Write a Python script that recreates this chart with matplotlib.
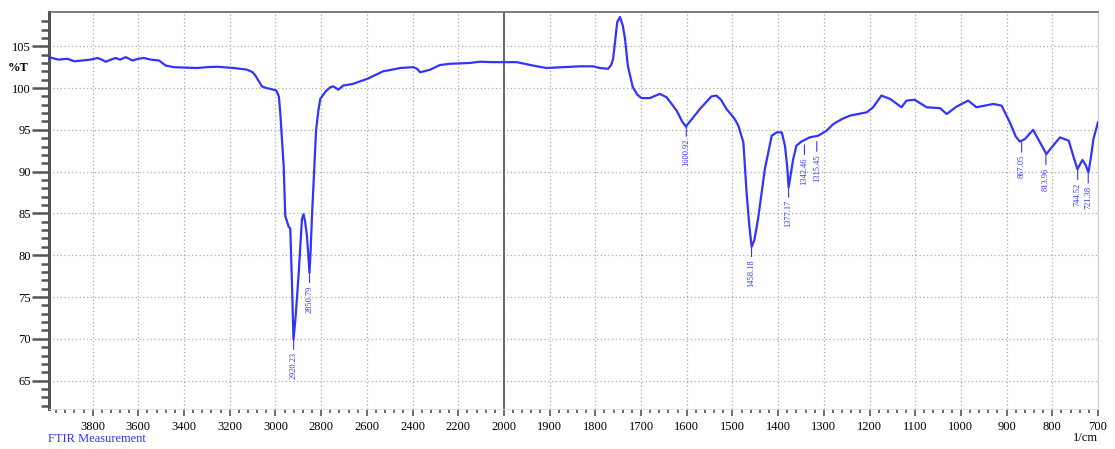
import numpy as np
import matplotlib
matplotlib.use("Agg")
import matplotlib.pyplot as plt
from matplotlib.ticker import FixedLocator, NullFormatter

plt.rcParams['font.family'] = ['Liberation Serif', 'DejaVu Serif']

# ---- data ----
wavenumber = [3991, 3978, 3950, 3910, 3880, 3845, 3810, 3779, 3760, 3743, 3720, 3699, 3680,
              3656, 3640, 3626, 3600, 3576, 3545, 3510, 3495, 3481, 3445, 3400, 3342, 3300,
              3255, 3183, 3124, 3100, 3088, 3070, 3059, 3040, 3022, 2996, 2985, 2979, 2964,
              2957, 2942, 2935, 2928, 2921, 2912, 2899, 2884, 2877, 2870, 2862, 2855, 2851,
              2846, 2840, 2833, 2826, 2822, 2812, 2804, 2780, 2760, 2747, 2735, 2725, 2703,
              2680, 2660, 2630, 2598, 2560, 2529, 2490, 2454, 2396, 2380, 2367, 2350, 2323,
              2280, 2240, 2192, 2150, 2105, 2050, 2004,
              1972, 1937, 1907, 1871, 1834, 1805, 1790, 1772, 1765, 1761, 1755, 1752, 1746,
              1740, 1735, 1729, 1718, 1708, 1699, 1681, 1659, 1644, 1622, 1610, 1602, 1590,
              1571, 1546, 1535, 1525, 1513, 1495, 1487, 1476, 1469, 1463, 1458, 1452, 1444,
              1429, 1414, 1403, 1392, 1385, 1380, 1377, 1372, 1367, 1360, 1349, 1331, 1312,
              1294, 1279, 1260, 1243, 1206, 1192, 1174, 1155, 1130, 1119, 1101, 1075, 1046,
              1031, 1009, 984, 966, 929, 911, 893, 880, 871, 860, 842, 825, 813, 800, 783,
              764, 752, 745, 740, 734, 727, 721, 716, 710, 700]
transmittance = [103.7, 103.6, 103.4, 103.5, 103.2, 103.3, 103.4, 103.6, 103.4, 103.15, 103.4,
                 103.6, 103.4, 103.7, 103.5, 103.3, 103.5, 103.6, 103.4, 103.3, 103.0, 102.7,
                 102.5, 102.45, 102.4, 102.5, 102.55, 102.4, 102.2, 101.9, 101.5, 100.7, 100.2,
                 100.0, 99.9, 99.7, 99.0, 97.1, 90.7, 84.7, 83.4, 83.2, 77.0, 69.9, 72.5, 77.5,
                 84.3, 84.9, 84.0, 82.3, 79.5, 77.9, 80.5, 84.7, 88.7, 92.7, 95.0, 97.3, 98.7,
                 99.6, 100.1, 100.2, 100.0, 99.8, 100.3, 100.4, 100.5, 100.8, 101.1, 101.6,
                 102.0, 102.2, 102.4, 102.5, 102.3, 101.9, 102.0, 102.2, 102.75, 102.9, 102.95,
                 103.0, 103.15, 103.1, 103.1,
                 103.1, 102.7, 102.4, 102.5, 102.6, 102.6, 102.4, 102.3, 102.8, 103.5, 106.5,
                 107.9, 108.5, 107.5, 105.9, 102.7, 100.1, 99.2, 98.8, 98.8, 99.3, 98.9, 97.3,
                 96.0, 95.4, 96.2, 97.5, 99.0, 99.1, 98.6, 97.5, 96.3, 95.5, 93.5, 87.5, 83.5,
                 81.0, 81.8, 84.3, 90.3, 94.3, 94.7, 94.7, 93.1, 90.5, 88.1, 89.8, 91.5, 93.1,
                 93.6, 94.1, 94.3, 94.9, 95.7, 96.3, 96.7, 97.1, 97.7, 99.1, 98.7, 97.7, 98.5,
                 98.6, 97.7, 97.6, 96.9, 97.8, 98.5, 97.7, 98.1, 97.9, 95.9, 94.2, 93.6, 93.9,
                 95.0, 93.3, 92.1, 93.0, 94.1, 93.7, 91.5, 90.3, 90.8, 91.4, 90.8, 89.9, 91.5,
                 93.9, 95.9]

peak_wn = [2920.23, 2850.79, 1600.92, 1458.18, 1377.17, 1342.46, 1315.45, 867.05, 813.96, 744.52, 721.38]
peak_T = [69.9, 77.9, 95.4, 81.0, 88.1, 93.2, 93.6, 93.5, 92.0, 90.2, 89.8]
peak_labels = ["2920.23", "2850.79", "1600.92", "1458.18", "1377.17", "1342.46",
               "1315.45", "867.05", "813.96", "744.52", "721.38"]

split_wn = 2000
x_major = [3800, 3600, 3400, 3200, 3000, 2800, 2600, 2400, 2200, 2000,
           1900, 1800, 1700, 1600, 1500, 1400, 1300, 1200, 1100, 1000, 900, 800, 700]
y_major = [65, 70, 75, 80, 85, 90, 95, 100, 105]

blue = '#3333ff'
dark = '#555555'


def fwd(x):
    x = np.asarray(x, dtype=float)
    return np.where(x > split_wn, split_wn + (x - split_wn) / 2.0, x)


def inv(u):
    u = np.asarray(u, dtype=float)
    return np.where(u > split_wn, split_wn + (u - split_wn) * 2.0, u)


fig = plt.figure(figsize=(11.15, 4.49), dpi=100)
ax = fig.add_axes([49 / 1115, 1 - 409 / 449, (1098 - 49) / 1115, (409 - 12) / 449])
ax.set_xscale('function', functions=(fwd, inv))

ax.plot(wavenumber, transmittance, color=blue, lw=1.6, solid_joinstyle='round', zorder=3)

ax.set_xlim(3991, 700)
ax.set_ylim(61.6, 109.1)

ax.xaxis.set_major_locator(FixedLocator(x_major))
minor_x = list(np.arange(3960, 2000, -40)) + list(np.arange(1980, 700, -20))
ax.xaxis.set_minor_locator(FixedLocator(minor_x))
ax.xaxis.set_minor_formatter(NullFormatter())
ax.set_xticklabels([str(v) for v in x_major])
ax.yaxis.set_major_locator(FixedLocator(y_major))
ax.yaxis.set_minor_locator(FixedLocator(list(np.arange(62, 109, 1))))
ax.yaxis.set_minor_formatter(NullFormatter())

ax.grid(True, which='major', linestyle=(0, (1, 2)), color='#aaaaaa', linewidth=0.9)
ax.axvline(split_wn, color='#666666', lw=1.4, zorder=2)

ax.tick_params(axis='x', which='major', direction='out', length=5, width=1.2, color=dark,
               labelsize=9, pad=4)
ax.tick_params(axis='x', which='minor', direction='out', length=3, width=1.2, color=dark)
ax.tick_params(axis='y', which='major', direction='out', length=12, width=1.8, color=dark,
               labelsize=9, pad=1)
ax.tick_params(axis='y', which='minor', direction='out', length=6, width=1.8, color=dark)

ax.spines['left'].set_color(dark)
ax.spines['left'].set_linewidth(2.2)
ax.spines['top'].set_color('#666666')
ax.spines['top'].set_linewidth(1.2)
ax.spines['right'].set_color('#cccccc')
ax.spines['bottom'].set_color('#dddddd')
ax.spines['bottom'].set_linewidth(0.6)

for w, t, lab in zip(peak_wn, peak_T, peak_labels):
    ax.annotate(lab, xy=(w, t), xytext=(0, -9), textcoords='offset points', rotation=90,
                ha='center', va='top', fontsize=6, color=blue,
                arrowprops=dict(arrowstyle='-', color=blue, lw=0.8, shrinkA=0, shrinkB=0))

ax.text(-0.0195, 102.4, '%T', transform=ax.get_yaxis_transform(), ha='right', va='center',
        fontsize=9, fontweight='bold')

fig.text(48 / 1115, 1 - 439 / 449, 'FTIR Measurement', ha='left', va='center', fontsize=9,
         color=blue)
fig.text(1098 / 1115, 1 - 438 / 449, '1/cm', ha='right', va='center', fontsize=9)

fig.savefig('out.png', dpi=100)
